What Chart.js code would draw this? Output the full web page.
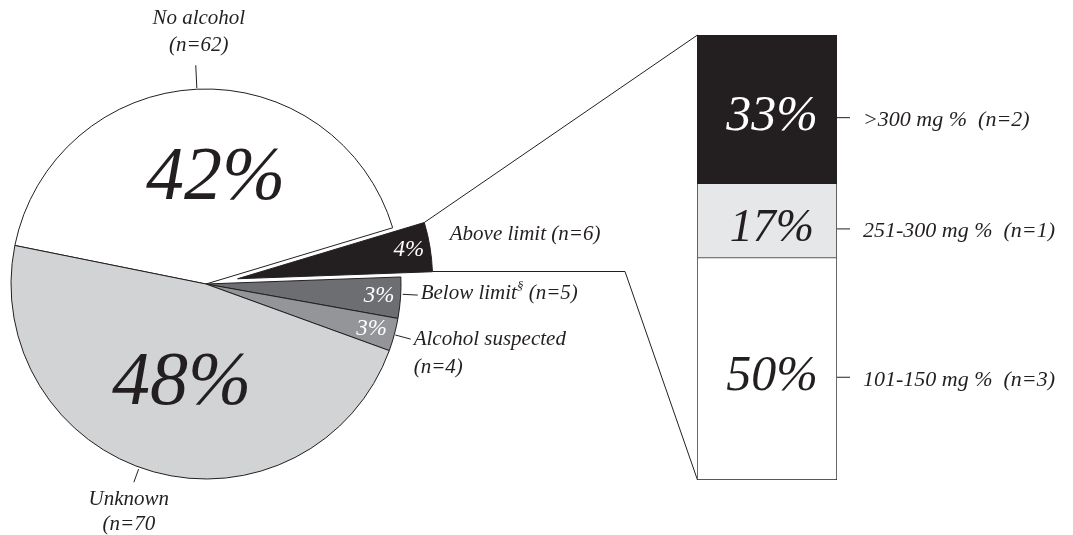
<!DOCTYPE html>
<html>
<head>
<meta charset="utf-8">
<script src="https://cdn.jsdelivr.net/npm/chart.js@4.4.1/dist/chart.umd.min.js"></script>
<style>
  html, body { margin: 0; padding: 0; background: #fff; }
  #wrap { position: relative; width: 1073px; height: 535px; overflow: hidden; }
  #pie { position: absolute; left: 0; top: 0; }
  #bar { position: absolute; left: 690px; top: 25px; }
</style>
</head>
<body>
<div id="wrap">
  <canvas id="pie" width="1073" height="535"></canvas>
  <canvas id="bar" width="383" height="465"></canvas>
</div>
<script>
// pie data
const pieLabels = ['No alcohol', 'Above limit', 'Below limit', 'Alcohol suspected', 'Unknown'];
const pieCounts = [62, 6, 5, 4, 70];
const piePercents = ['42%', '4%', '3%', '3%', '48%'];

// bar data (bottom to top)
const barLabels = ['101-150 mg %  (n=3)', '251-300 mg %  (n=1)', '>300 mg %  (n=2)'];
const barCounts = [3, 1, 2];
const barPercents = ['50%', '17%', '33%'];

const ink = '#231f20';
const serif = '"Liberation Serif", "DejaVu Serif", serif';
const pieColors = ['#ffffff', ink, '#6d6e71', '#939598', '#d1d3d4'];
const barColors = ['#ffffff', '#e6e7e8', ink];

const explodeIndex = 1;
const explodeBy = 32;

// where the percent goes inside each slice
const pctStyle = [
  { size: 76, color: ink, frac: 0.54, shift: 8 },
  { size: 23, color: '#fff', frac: 0.89, shift: 0 },
  { size: 23, color: '#fff', frac: 0.89, shift: 0 },
  { size: 23, color: '#fff', frac: 0.88, shift: 0 },
  { size: 76, color: ink, frac: 0.53, shift: -2 }
];

// outside labels: leader from r+r0 to r+r1, text offset from leader end
const outerLabels = [
  { lines: [[{ t: 'No alcohol' }], [{ t: '(n=62)' }]], r0: 1, r1: 24, align: 'center', dx: 3, dy: -47, lh: 27 },
  { lines: [[{ t: 'Above limit (n=6)' }]], r0: 14, r1: 14, align: 'left', dx: 6, dy: -10, lh: 26 },
  { lines: [[{ t: 'Below limit' }, { t: '§', sup: true }, { t: ' (n=5)' }]], angle: 3, r0: 2, r1: 17, align: 'left', dx: 3, dy: -2, lh: 26 },
  { lines: [[{ t: 'Alcohol suspected' }], [{ t: '(n=4)' }]], r0: 1, r1: 17, align: 'left', dx: 3, dy: 0, lh: 28 },
  { lines: [[{ t: 'Unknown' }], [{ t: '(n=70' }]], angle: 110, r0: 2, r1: 16, align: 'center', dx: -5, dy: 17, lh: 25 }
];

function drawRich(ctx, parts, x, y, size, align) {
  ctx.textBaseline = 'middle';
  const widths = parts.map(p => {
    ctx.font = 'italic ' + (p.sup ? Math.round(size * 0.6) : size) + 'px ' + serif;
    return ctx.measureText(p.t).width;
  });
  const total = widths.reduce((a, b) => a + b, 0);
  let cx = align === 'center' ? x - total / 2 : x;
  ctx.textAlign = 'left';
  parts.forEach((p, i) => {
    ctx.font = 'italic ' + (p.sup ? Math.round(size * 0.6) : size) + 'px ' + serif;
    ctx.fillText(p.t, cx, p.sup ? y - size * 0.3 : y);
    cx += widths[i];
  });
}

const barLabelPlugin = {
  id: 'barText',
  afterDatasetsDraw(chart) {
    const ctx = chart.ctx;
    ctx.save();
    chart.data.datasets.forEach((ds, i) => {
      const bar = chart.getDatasetMeta(i).data[0];
      const midY = (bar.y + bar.base) / 2 + 8;
      const right = bar.x + bar.width / 2;
      ctx.fillStyle = i === 2 ? '#fff' : ink;
      ctx.font = 'italic ' + (i === 1 ? 46 : 50) + 'px ' + serif;
      ctx.textAlign = 'center';
      ctx.textBaseline = 'middle';
      ctx.fillText(barPercents[i], bar.x + 5, midY);
      ctx.strokeStyle = ink;
      ctx.lineWidth = 1;
      ctx.beginPath();
      ctx.moveTo(right, midY + 0.5);
      ctx.lineTo(right + 13, midY + 0.5);
      ctx.stroke();
      ctx.fillStyle = ink;
      drawRich(ctx, [{ t: barLabels[i] }], right + 26, midY + 3, 22, 'left');
    });
    ctx.restore();
  }
};

const barChart = new Chart(document.getElementById('bar'), {
  type: 'bar',
  data: {
    labels: [''],
    datasets: barLabels.map((l, i) => ({
      label: l,
      data: [barCounts[i]],
      backgroundColor: barColors[i],
      borderColor: ink,
      borderWidth: i === 0 ? 1 : { top: 1, left: 1, right: 1, bottom: 0 },
      borderSkipped: false,
      barPercentage: 1,
      categoryPercentage: 1
    }))
  },
  options: {
    responsive: false,
    animation: false,
    layout: { padding: { left: 7, right: 236, top: 10, bottom: 10 } },
    scales: {
      x: { display: false, stacked: true },
      y: { display: false, stacked: true, min: 0, max: 6 }
    },
    plugins: { legend: { display: false }, tooltip: { enabled: false } }
  },
  plugins: [barLabelPlugin]
});

const pieTextPlugin = {
  id: 'pieText',
  afterUpdate(chart) {
    // pull the "Above limit" slice out of the pie
    const arc = chart.getDatasetMeta(0).data[explodeIndex];
    const mid = (arc.startAngle + arc.endAngle) / 2;
    arc.x += Math.cos(mid) * explodeBy;
    arc.y += Math.sin(mid) * explodeBy;
  },
  afterDatasetsDraw(chart) {
    const ctx = chart.ctx;
    const arcs = chart.getDatasetMeta(0).data;
    ctx.save();

    // percent labels
    arcs.forEach((arc, i) => {
      const st = pctStyle[i];
      const a = (arc.startAngle + arc.endAngle) / 2 + st.shift * Math.PI / 180;
      const px = arc.x + Math.cos(a) * arc.outerRadius * st.frac;
      const py = arc.y + Math.sin(a) * arc.outerRadius * st.frac;
      ctx.fillStyle = st.color;
      ctx.font = 'italic ' + st.size + 'px ' + serif;
      ctx.textAlign = 'center';
      ctx.textBaseline = 'middle';
      ctx.fillText(piePercents[i], px, py);
    });

    // outside labels with leaders
    ctx.strokeStyle = ink;
    ctx.fillStyle = ink;
    ctx.lineWidth = 1;
    arcs.forEach((arc, i) => {
      const o = outerLabels[i];
      const a = o.angle !== undefined ? o.angle * Math.PI / 180 : (arc.startAngle + arc.endAngle) / 2;
      const r = arc.outerRadius;
      const x0 = arc.x + Math.cos(a) * (r + o.r0), y0 = arc.y + Math.sin(a) * (r + o.r0);
      const x1 = arc.x + Math.cos(a) * (r + o.r1), y1 = arc.y + Math.sin(a) * (r + o.r1);
      if (o.r1 > o.r0) {
        ctx.beginPath();
        ctx.moveTo(x0, y0);
        ctx.lineTo(x1, y1);
        ctx.stroke();
      }
      o.lines.forEach((parts, k) => {
        drawRich(ctx, parts, x1 + o.dx, y1 + o.dy + k * o.lh, 21, o.align);
      });
    });

    // connectors from the pulled-out slice to the bar
    const ex = arcs[explodeIndex];
    const top = barChart.getDatasetMeta(2).data[0];
    const bottom = barChart.getDatasetMeta(0).data[0];
    const barCanvas = barChart.canvas;
    const bx = barCanvas.offsetLeft + top.x - top.width / 2;
    const byTop = barCanvas.offsetTop + top.y;
    const byBottom = barCanvas.offsetTop + bottom.base;
    const sx = ex.x + Math.cos(ex.startAngle) * ex.outerRadius;
    const sy = ex.y + Math.sin(ex.startAngle) * ex.outerRadius;
    const fx = ex.x + Math.cos(ex.endAngle) * ex.outerRadius;
    const fy = ex.y + Math.sin(ex.endAngle) * ex.outerRadius;
    ctx.beginPath();
    ctx.moveTo(sx, sy);
    ctx.lineTo(bx + 0.5, byTop);
    ctx.stroke();
    ctx.beginPath();
    ctx.moveTo(fx, Math.round(fy) - 0.5);
    ctx.lineTo(625, Math.round(fy) - 0.5);
    ctx.lineTo(bx + 0.5, byBottom);
    ctx.stroke();
    ctx.restore();
  }
};

const pieChart = new Chart(document.getElementById('pie'), {
  type: 'pie',
  data: {
    labels: pieLabels,
    datasets: [{
      data: pieCounts,
      backgroundColor: pieColors,
      borderColor: ink,
      borderWidth: 1,
      radius: 195
    }]
  },
  options: {
    responsive: false,
    animation: false,
    rotation: 281.4,
    layout: { padding: { left: 0, right: 661, top: 33, bottom: 0 } },
    plugins: { legend: { display: false }, tooltip: { enabled: false } }
  },
  plugins: [pieTextPlugin]
});
</script>
</body>
</html>
